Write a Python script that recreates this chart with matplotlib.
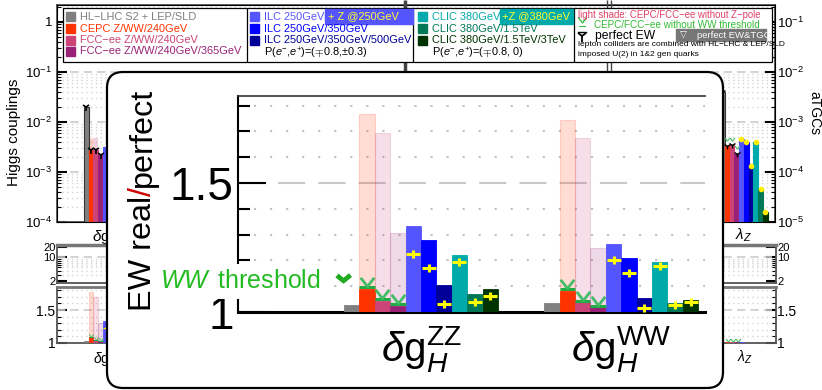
import matplotlib.pyplot as plt
import numpy as np
from matplotlib.patches import FancyBboxPatch, Rectangle
from matplotlib.path import Path
from matplotlib.colors import to_rgba
from matplotlib.ticker import FixedLocator, FixedFormatter, NullFormatter, LogLocator

# ---- data ----
colliders = ['HL\u2212LHC S2 + LEP/SLD', 'CEPC Z/WW/240GeV', 'FCC\u2212ee Z/WW/240GeV',
             'FCC\u2212ee Z/WW/240GeV/365GeV', 'ILC 250GeV', 'ILC 250GeV/350GeV',
             'ILC 250GeV/350GeV/500GeV', 'CLIC 380GeV', 'CLIC 380GeV/1.5TeV',
             'CLIC 380GeV/1.5TeV/3TeV']
colors = ['#808080', '#ff3300', '#cc4477', '#992277', '#5555ff', '#0000ff',
          '#000099', '#00aaaa', '#007755', '#003300']

# EW real/perfect (inset and lower panel)
ratio_zz = [1.027, 1.089, 1.043, 1.023, 1.333, 1.279, 1.105, 1.221, 1.070, 1.089]
ratio_ww = [1.035, 1.081, 1.039, 1.020, 1.264, 1.210, 1.054, 1.194, 1.035, 1.047]
# light shade: CEPC/FCC-ee without Z-pole
noz_zz = [1.767, 1.694, 1.306]
noz_ww = [1.744, 1.674, 1.248]
# CEPC/FCC-ee without WW threshold
noww_zz = [1.096, 1.049, 1.030]
noww_ww = [1.088, 1.043, 1.023]
# ILC/CLIC with extra Z-pole run
plusz_zz = [1.225, 1.170, 1.031, 1.194, 1.039, 1.062]
plusz_ww = [1.200, 1.151, 1.015, 1.178, 1.027, 1.039]

# upper panel: Higgs couplings, first group (only the part left of the inset)
coupl_zz = [2.0e-2, 2.7e-3, 2.8e-3, 2.2e-3, 3.2e-3]
coupl_noz_zz = [4.6e-3, 4.7e-3]
# upper panel: aTGC lambda_Z
atgc_lz = [4.0e-3, 3.3e-4, 3.4e-4, 2.3e-4, 4.6e-4, 3.9e-4, 1.3e-4, 3.9e-4, 4.6e-5, 1.6e-5]
ratio_lz = [1.0, 1.012, 1.012, 1.010, 1.008, 1.006, 1.004, 1.006, 1.003, 1.003]

zz_label = r'$\delta\mathrm{g}_{H}^{\mathrm{ZZ}}$'
ww_label = r'$\delta\mathrm{g}_{H}^{\mathrm{WW}}$'
lz_label = r'$\lambda_Z$'

W, H = 822, 390
plt.rcParams['font.family'] = ['Liberation Sans', 'DejaVu Sans']
plt.rcParams['mathtext.fontset'] = 'custom'
plt.rcParams['mathtext.rm'] = 'Liberation Sans'
plt.rcParams['mathtext.it'] = 'Liberation Sans:italic'
plt.rcParams['mathtext.bf'] = 'Liberation Sans:bold'

fig = plt.figure(figsize=(W / 100, H / 100), dpi=100)


def rect(x0, y0, x1, y1):
    # pixel box (origin top-left) -> figure fraction
    return [x0 / W, 1 - y1 / H, (x1 - x0) / W, (y1 - y0) / H]


V_MARK = Path([(-0.7, 1.0), (0.0, 0.1), (0.7, 1.0)])
CROSS = Path([(-1, 0), (1, 0), (0, -0.6), (0, 0.6)],
             [Path.MOVETO, Path.LINETO, Path.MOVETO, Path.LINETO])
CHEVRON = [(-1, 0.35), (0, -0.45), (1, 0.35), (0.7, 0.7), (0, 0.1), (-0.7, 0.7)]


def draw_group(ax, x0, vals, noz, noww, plusz, s):
    x = x0 + np.arange(len(vals))
    cepc = x[1:4]
    lin = x[4:10]
    ax.bar(cepc, np.array(noz) - 1, bottom=1, width=1, align='edge',
           color=[to_rgba(c, 0.17) for c in colors[1:4]],
           edgecolor=[to_rgba(c, 0.18) for c in colors[1:4]], lw=0.8, zorder=2)
    ax.bar(x, np.array(vals) - 1, bottom=1, width=1, align='edge', color=colors,
           edgecolor=colors, lw=0.6, zorder=3)
    ax.hlines(noww, cepc, cepc + 1, color='#22aa44', lw=2.2 * s, zorder=4)
    ax.plot(cepc + 0.5, noww, ls='none', marker=V_MARK, ms=14 * s, mfc='none',
            mec='#44bb66', mew=2 * s, zorder=5)
    ax.plot(lin + 0.5, plusz, ls='none', marker=CROSS, ms=10 * s, mfc='none',
            mec='#ffff00', mew=2.2 * s, zorder=5)


def style_bg(ax):
    for sp in ax.spines.values():
        sp.set_color('#555555')
        sp.set_linewidth(1.3)
    ax.tick_params(which='major', direction='in', length=7, width=1.5,
                   left=True, right=True)
    ax.tick_params(which='minor', direction='in', length=3, width=0.8,
                   left=True, right=True)


# ---------------- background figure ----------------
xz_bg = 5.6 + np.arange(10)
xl_bg = 138.5 + np.arange(10)

ax_top = fig.add_axes(rect(57, 5, 775, 222))
ax_top.set_xlim(0, 150)
ax_top.set_yscale('log')
ax_top.set_ylim(1e-4, 10 ** 0.34)
ax_top.grid(which='major', axis='y', color='#cccccc', ls=(0, (5, 3)), lw=1.2)
ax_top.grid(which='minor', axis='y', color='#d4d4d4', ls=(0, (1, 2.45)), lw=1)
ax_top.bar(xz_bg[1:3], np.array(coupl_noz_zz) - 1e-7, bottom=1e-7, width=1,
           align='edge', color=[to_rgba(c, 0.25) for c in colors[1:3]], zorder=2)
ax_top.bar(xz_bg[:5], np.array(coupl_zz) - 1e-7, bottom=1e-7, width=1, align='edge',
           color=colors[:5], edgecolor=['#333333'] + colors[1:5], lw=0.8, zorder=3)
ax_top.plot(xz_bg[:4] + 0.5, coupl_zz[:4], ls='none', marker='1', ms=6,
            color='black', mew=1.2, zorder=4)
ax_top.yaxis.set_major_locator(FixedLocator([1e-4, 1e-3, 1e-2, 1e-1, 1]))
ax_top.yaxis.set_major_formatter(FixedFormatter(
    [r'$10^{-4}$', r'$10^{-3}$', r'$10^{-2}$', r'$10^{-1}$', '1']))
ax_top.yaxis.set_minor_locator(LogLocator(subs=np.arange(2, 10)))
ax_top.yaxis.set_minor_formatter(NullFormatter())
style_bg(ax_top)
ax_top.tick_params(axis='y', labelsize=9.5, right=False, which='both')
ax_top.set_xticks([xz_bg[0] + 5, xl_bg[0] + 5], [zz_label, lz_label])
ax_top.tick_params(axis='x', length=0, labelsize=11, pad=3)

ax_r = ax_top.twinx()
ax_r.set_yscale('log')
ax_r.set_ylim(1e-5, 10 ** -0.66)
ax_r.bar(xl_bg, np.array(atgc_lz) - 1e-8, bottom=1e-8, width=1, align='edge',
         color=colors, edgecolor=['#333333'] + colors[1:], lw=0.8, zorder=3)
ax_r.plot(xl_bg[:4] + 0.5, atgc_lz[:4], ls='none', marker='1', ms=5, color='black',
          mew=1, zorder=4)
ax_r.plot(xl_bg[4:] + 0.5, atgc_lz[4:], ls='none', marker='o', ms=3, color='#ffee00',
          zorder=4)
ax_r.plot(xl_bg[1:4] + 0.5, np.array(atgc_lz[1:4]) * 1.25, ls='none', marker=V_MARK,
          ms=5, mfc='none', mec='#44bb66', mew=0.8, zorder=4)
ax_r.yaxis.set_major_locator(FixedLocator([1e-5, 1e-4, 1e-3, 1e-2, 1e-1]))
ax_r.yaxis.set_major_formatter(FixedFormatter(
    [r'$10^{-5}$', r'$10^{-4}$', r'$10^{-3}$', r'$10^{-2}$', r'$10^{-1}$']))
ax_r.yaxis.set_minor_locator(LogLocator(subs=np.arange(2, 10)))
ax_r.yaxis.set_minor_formatter(NullFormatter())
ax_r.tick_params(which='major', direction='in', length=7, width=1.5, labelsize=9.5,
                 pad=1.5)
ax_r.tick_params(which='minor', direction='in', length=3, width=0.8)

ax_mid = fig.add_axes(rect(57, 245, 776, 283))
ax_mid.set_xlim(0, 150)
ax_mid.set_yscale('log')
ax_mid.set_ylim(1.74, 23)
ax_mid.axhline(10, color='#cccccc', ls=(0, (5, 3)), lw=1.2)
ax_mid.yaxis.set_major_locator(FixedLocator([2, 10, 20]))
ax_mid.yaxis.set_major_formatter(FixedFormatter(['2', '10', '20']))
ax_mid.yaxis.set_minor_locator(FixedLocator([3, 4, 5, 6, 7, 8, 9]))
ax_mid.yaxis.set_minor_formatter(NullFormatter())
ax_mid.grid(which='minor', axis='y', color='#d4d4d4', ls=(0, (1, 2.45)), lw=1)
style_bg(ax_mid)
ax_mid.spines['top'].set_linewidth(2.5)
ax_mid.spines['top'].set_color('#777777')
ax_mid.tick_params(axis='y', labelsize=8, labelright=True, pad=1)
ax_mid.set_xticks([])

ax_bot = fig.add_axes(rect(57, 287, 776, 343))
ax_bot.set_xlim(0, 150)
ax_bot.set_ylim(1, 1.85)
ax_bot.axhline(1.5, color='#cccccc', ls=(0, (5, 3)), lw=1.2)
draw_group(ax_bot, xz_bg[0], ratio_zz, noz_zz, noww_zz, plusz_zz, 0.33)
ax_bot.bar(xl_bg, np.array(ratio_lz) - 1, bottom=1, width=1, align='edge',
           color=colors, zorder=3)
ax_bot.plot(xl_bg[1:4] + 0.5, ratio_lz[1:4], ls='none', marker=V_MARK, ms=5,
            mfc='none', mec='#44bb66', mew=0.8, zorder=4)
ax_bot.yaxis.set_major_locator(FixedLocator([1, 1.5]))
ax_bot.yaxis.set_major_formatter(FixedFormatter(['1', '1.5']))
ax_bot.yaxis.set_minor_locator(FixedLocator([1.1, 1.2, 1.3, 1.4, 1.6, 1.7, 1.8]))
ax_bot.grid(which='minor', axis='y', color='#d4d4d4', ls=(0, (1, 2.45)), lw=1)
style_bg(ax_bot)
ax_bot.spines['top'].set_linewidth(2)
ax_bot.spines['top'].set_color('#777777')
ax_bot.tick_params(axis='y', labelsize=10, labelright=True, pad=1)
ax_bot.set_xticks([xz_bg[0] + 5, xl_bg[0] + 5], [zz_label, lz_label])
ax_bot.tick_params(axis='x', length=0, labelsize=10, pad=4)

fig.text(14 / W, 1 - 132 / H, 'Higgs couplings', rotation=90, ha='center',
         va='center', fontsize=11)
fig.text(814 / W, 1 - 113 / H, 'aTGCs', rotation=270, ha='center', va='center',
         fontsize=10)

# ---------------- legend and inset frame (pixel coordinates) ----------------
lg = fig.add_axes([0, 0, 1, 1], zorder=2)
lg.set_xlim(0, W)
lg.set_ylim(H, 0)
lg.axis('off')
lg.vlines([405], 0, 72, color='#444444', lw=2.5, zorder=0.5)
lg.vlines([607, 611], 0, 72, color='#444444', lw=1, zorder=0.5)
lg.add_patch(Rectangle((63, 8), 709, 54, fc='white', ec='black', lw=0.9, zorder=1))
lg.vlines([247, 413, 574], 8, 62, color='black', lw=0.9, zorder=1.5)

rows = [16.5, 28.5, 40, 51.5]
for k in range(4):
    lg.add_patch(Rectangle((66, rows[k] - 4.5), 9, 9, color=colors[k], zorder=2))
    lg.text(80, rows[k], colliders[k], color=colors[k], fontsize=7.9, va='center')
for k in range(3):
    lg.add_patch(Rectangle((250, rows[k] - 4.5), 9, 9, color=colors[4 + k], zorder=2))
    lg.text(264, rows[k], colliders[4 + k], color=colors[4 + k], fontsize=7.9,
            va='center')
    lg.add_patch(Rectangle((418, rows[k] - 4.5), 9, 9, color=colors[7 + k], zorder=2))
    lg.text(432, rows[k], colliders[7 + k], color=colors[7 + k], fontsize=7.9,
            va='center')
lg.add_patch(Rectangle((325, 9), 88, 15, color=colors[4], zorder=2))
lg.text(328, 16.5, '+ Z @250GeV', color='#ffff33', fontsize=7.9, va='center')
lg.add_patch(Rectangle((500, 9), 73, 15, color=colors[7], zorder=2))
lg.text(502, 16.5, '+Z @380GeV', color='#ffff33', fontsize=7.9, va='center')
lg.text(264, 53, r'P($e^{-}$,$e^{+}$)=($\mp$0.8,$\pm$0.3)', fontsize=7.9, va='center')
lg.text(432, 53, r'P($e^{-}$,$e^{+}$)=($\mp$0.8, 0)', fontsize=7.9, va='center')

lg.text(578, 15, 'light shade: CEPC/FCC\u2212ee without Z\u2212pole', color='#e0406a',
        fontsize=6.9, va='center')
lg.plot([582], [23], ls='none', marker=V_MARK, ms=9, mfc='none', mec='#33bb44', mew=1)
lg.plot([579, 585], [26, 26], color='#33bb44', lw=0.8)
lg.text(594, 25, 'CEPC/FCC\u2212ee without WW threshold', color='#33bb33',
        fontsize=7.1, va='center')
lg.plot([582], [36], ls='none', marker='1', ms=8, color='black', mew=1.3)
lg.plot([578, 586], [32, 32], color='black', lw=1)
lg.text(595, 35.5, 'perfect EW', fontsize=8.7, va='center')
lg.add_patch(Rectangle((676, 29), 90, 12, color='#777777', zorder=2))
lg.text(680, 35, '\u25bd', color='white', fontsize=6.5, va='center')
lg.text(697, 35, 'perfect EW&TGC', color='white', fontsize=6.8, va='center')
lg.text(578, 45, 'lepton colliders are combined with HL\u2212LHC & LEP/SLD',
        fontsize=6.0, va='center')
lg.text(578, 54, 'imposed U(2) in 1&2 gen quarks', fontsize=6.0, va='center')

lg.add_patch(FancyBboxPatch((107, 72), 616, 316, boxstyle='round,pad=0,rounding_size=16',
                            fc='white', ec='black', lw=1.6, zorder=3))

# ---------------- inset: zoom of the EW ratio panel ----------------
ax_in = fig.add_axes(rect(238, 96, 705, 312), zorder=3)
ax_in.set_facecolor('none')
draw_group(ax_in, 0, ratio_zz, noz_zz, noww_zz, plusz_zz, 1.0)
draw_group(ax_in, 13, ratio_ww, noz_ww, noww_ww, plusz_ww, 1.0)
ax_in.set_xlim(-6.88, 23.44)
ax_in.set_ylim(1.0, 1.837)
for yv in [1.1, 1.2, 1.3, 1.4, 1.6, 1.7, 1.8]:
    ax_in.axhline(yv, color='#c0c0c0', lw=1.5, ls=(0, (1, 6.7)), zorder=1)
ax_in.axhline(1.5, color='#c8c8c8', lw=1.5, ls=(0, (13, 6.3)), zorder=1)
ax_in.spines['right'].set_visible(False)
ax_in.spines['left'].set_linewidth(1.5)
ax_in.spines['top'].set_linewidth(1.2)
ax_in.spines['top'].set_color('#333333')
ax_in.spines['bottom'].set_linewidth(2.2)
ax_in.yaxis.set_major_locator(FixedLocator([1.0, 1.5]))
ax_in.yaxis.set_major_formatter(FixedFormatter(['1', '1.5']))
ax_in.yaxis.set_minor_locator(FixedLocator([1.1, 1.2, 1.3, 1.4, 1.6, 1.7, 1.8]))
ax_in.tick_params(axis='y', which='major', direction='in', length=20, width=1.5,
                  labelsize=33, pad=3)
ax_in.tick_params(axis='y', which='minor', direction='in', length=8.6, width=1.5)
ax_in.set_xticks([5, 18], [zz_label, ww_label])
ax_in.tick_params(axis='x', length=0, labelsize=29, pad=9)

ax_in.plot([0.2248], [0.1528], transform=ax_in.transAxes, ls='none', marker=CHEVRON,
           ms=11, color='#22aa22', clip_on=False, zorder=6)
fig.text(321 / W, 1 - 288 / H, r'$WW\,$ threshold', ha='right', va='baseline',
         fontsize=18, color='#22bb22', zorder=6,
         bbox=dict(fc='white', ec='none', pad=4))

# y label with a red slash
rend = fig.canvas.get_renderer()
ypos = 311
for piece, col in [('EW real', 'black'), ('/', '#cc0000'), ('perfect', 'black')]:
    t = fig.text(151 / W, 1 - ypos / H, piece, rotation=90, rotation_mode='anchor',
                 ha='left', va='baseline', fontsize=23.3, color=col, zorder=6)
    ypos -= t.get_window_extent(rend).height

fig.savefig('out.png', dpi=100)
